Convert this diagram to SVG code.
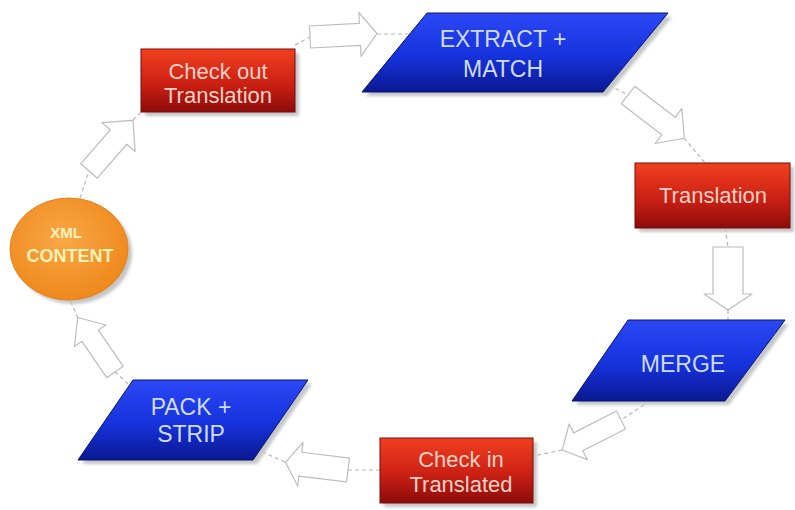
<svg xmlns="http://www.w3.org/2000/svg" width="795" height="510" viewBox="0 0 795 510">
<defs>
<linearGradient id="red" x1="0" y1="0" x2="0" y2="1">
<stop offset="0" stop-color="#f0401f"/>
<stop offset="0.55" stop-color="#cc2014"/>
<stop offset="1" stop-color="#8c0c0a"/>
</linearGradient>
<linearGradient id="blue" x1="0" y1="0" x2="0" y2="1">
<stop offset="0" stop-color="#2c48f6"/>
<stop offset="0.55" stop-color="#1632dc"/>
<stop offset="1" stop-color="#0a1890"/>
</linearGradient>
<radialGradient id="orange" cx="0.45" cy="0.4" r="0.65">
<stop offset="0" stop-color="#f8a848"/>
<stop offset="1" stop-color="#ee8618"/>
</radialGradient>
<filter id="soft" x="-10%" y="-10%" width="130%" height="130%">
<feGaussianBlur stdDeviation="1.5"/>
</filter>
</defs>
<style>
.shadow{fill:#c4c6c8;filter:url(#soft)}
.red{fill:url(#red);stroke:#7a0a08;stroke-width:1}
.blue{fill:url(#blue);stroke:#081470;stroke-width:1}
.orange{fill:url(#orange);stroke:#e8801a;stroke-width:1}
.tr{font-family:"Liberation Sans",Arial,sans-serif;font-size:22px;fill:#f8d2c6;text-anchor:middle}
.tb{font-family:"Liberation Sans",Arial,sans-serif;font-size:23px;fill:#cfdcff;text-anchor:middle}
.to{font-family:"Liberation Sans",Arial,sans-serif;font-weight:bold;fill:#fff2b8;text-anchor:middle}
.dash{fill:none;stroke:#b8b8b8;stroke-width:1.2;stroke-dasharray:4 3}
.arrow{fill:#ffffff;stroke:#bdbdbd;stroke-width:1.2;stroke-linejoin:round}
</style>
<rect width="795" height="510" fill="#ffffff"/>

<g id="connectors">
<path class="dash" d="M80,198 L89,171"/>
<path class="dash" d="M133,120 L141,112"/>
<path class="dash" d="M295,45 L310,37"/>
<path class="dash" d="M377,34 L410,34"/>
<path class="dash" d="M603,82 L628,95"/>
<path class="dash" d="M684,138 L705,163"/>
<path class="dash" d="M725,228 L728,247"/>
<path class="dash" d="M728,310 L728,320"/>
<path class="dash" d="M650,401 L621,420"/>
<path class="dash" d="M562,450 L533,456"/>
<path class="dash" d="M380,470 L348,470"/>
<path class="dash" d="M285,462 L262,452"/>
<path class="dash" d="M128,384 L115,372"/>
<path class="dash" d="M78,318 L70,300"/>
<path class="arrow" transform="translate(89,171) rotate(-49)" d="M0,-11 L45,-11 L45,-22 L67,0 L45,22 L45,11 L0,11 Z"/>
<path class="arrow" transform="translate(310,37) rotate(-3)" d="M0,-11 L50,-11 L50,-22 L67,0 L50,22 L50,11 L0,11 Z"/>
<path class="arrow" transform="translate(628,95) rotate(37.5)" d="M0,-11 L51,-11 L51,-22 L71,0 L51,22 L51,11 L0,11 Z"/>
<path class="arrow" transform="translate(728,247) rotate(90)" d="M0,-15 L47,-15 L47,-24 L63,0 L47,24 L47,15 L0,15 Z"/>
<path class="arrow" transform="translate(621,420) rotate(153)" d="M0,-10 L48,-10 L48,-20 L66,0 L48,20 L48,10 L0,10 Z"/>
<path class="arrow" transform="translate(348,470) rotate(187)" d="M0,-12 L48,-12 L48,-22 L63,0 L48,22 L48,12 L0,12 Z"/>
<path class="arrow" transform="translate(115,372) rotate(-124.4)" d="M0,-10 L44,-10 L44,-19 L66,0 L44,19 L44,10 L0,10 Z"/>
</g>

<g id="xml-content">
<ellipse class="shadow" cx="73" cy="253" rx="59" ry="51"/>
<ellipse class="orange" cx="69" cy="249" rx="59" ry="51"/>
<text class="to" x="66" y="238" font-size="15">XML</text>
<text class="to" x="70" y="262" font-size="18">CONTENT</text>
</g>

<g id="check-out">
<rect class="shadow" x="145" y="53" width="154" height="63"/>
<rect class="red" x="141" y="49" width="154" height="63"/>
<text class="tr" x="218" y="79">Check out</text>
<text class="tr" x="218" y="103">Translation</text>
</g>

<g id="extract-match">
<polygon class="shadow" points="431,17 672,17 607,96 366,96"/>
<polygon class="blue" points="427,13 668,13 603,92 362,92"/>
<text class="tb" x="503" y="47">EXTRACT +</text>
<text class="tb" x="503" y="77">MATCH</text>
</g>

<g id="translation">
<rect class="shadow" x="639" y="167" width="155" height="65"/>
<rect class="red" x="635" y="163" width="155" height="65"/>
<text class="tr" x="713" y="203">Translation</text>
</g>

<g id="merge">
<polygon class="shadow" points="632,324 789,324 729,405 576,405"/>
<polygon class="blue" points="628,320 785,320 725,401 572,401"/>
<text class="tb" x="683" y="372" font-size="21">MERGE</text>
</g>

<g id="check-in">
<rect class="shadow" x="384" y="442" width="153" height="65"/>
<rect class="red" x="380" y="438" width="153" height="65"/>
<text class="tr" x="461" y="467">Check in</text>
<text class="tr" x="461" y="492">Translated</text>
</g>

<g id="pack-strip">
<polygon class="shadow" points="137,384 312,384 257,464 82,464"/>
<polygon class="blue" points="133,380 308,380 253,460 78,460"/>
<text class="tb" x="191" y="415">PACK +</text>
<text class="tb" x="191" y="442">STRIP</text>
</g>
</svg>
